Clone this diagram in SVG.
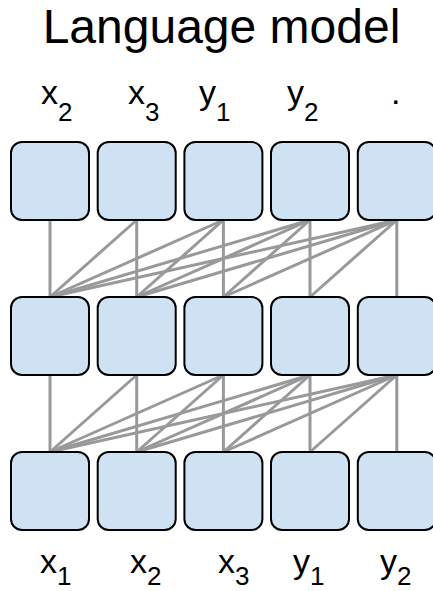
<svg xmlns="http://www.w3.org/2000/svg" width="433" height="591" viewBox="0 0 433 591">
<style>
.box{fill:#cfe2f3;stroke:#000;stroke-width:2}
.ln{stroke:#999;stroke-width:3;fill:none}
.t{font-family:"Liberation Sans",Arial,sans-serif;fill:#000}
.lab{font-size:34px}
.sub{font-size:26px}
</style>
<rect width="433" height="591" fill="#fff"/>
<g id="connectors" class="ln">
<line x1="50" y1="220" x2="50" y2="297"/>
<line x1="136.7" y1="220" x2="136.7" y2="297"/>
<line x1="136.7" y1="220" x2="50" y2="297"/>
<line x1="223.4" y1="220" x2="223.4" y2="297"/>
<line x1="223.4" y1="220" x2="136.7" y2="297"/>
<line x1="223.4" y1="220" x2="50" y2="297"/>
<line x1="310" y1="220" x2="310" y2="297"/>
<line x1="310" y1="220" x2="223.4" y2="297"/>
<line x1="310" y1="220" x2="136.7" y2="297"/>
<line x1="310" y1="220" x2="50" y2="297"/>
<line x1="396.8" y1="220" x2="396.8" y2="297"/>
<line x1="396.8" y1="220" x2="310" y2="297"/>
<line x1="396.8" y1="220" x2="223.4" y2="297"/>
<line x1="396.8" y1="220" x2="136.7" y2="297"/>
<line x1="396.8" y1="220" x2="50" y2="297"/>
<line x1="50" y1="375" x2="50" y2="452"/>
<line x1="136.7" y1="375" x2="136.7" y2="452"/>
<line x1="136.7" y1="375" x2="50" y2="452"/>
<line x1="223.4" y1="375" x2="223.4" y2="452"/>
<line x1="223.4" y1="375" x2="136.7" y2="452"/>
<line x1="223.4" y1="375" x2="50" y2="452"/>
<line x1="310" y1="375" x2="310" y2="452"/>
<line x1="310" y1="375" x2="223.4" y2="452"/>
<line x1="310" y1="375" x2="136.7" y2="452"/>
<line x1="310" y1="375" x2="50" y2="452"/>
<line x1="396.8" y1="375" x2="396.8" y2="452"/>
<line x1="396.8" y1="375" x2="310" y2="452"/>
<line x1="396.8" y1="375" x2="223.4" y2="452"/>
<line x1="396.8" y1="375" x2="136.7" y2="452"/>
<line x1="396.8" y1="375" x2="50" y2="452"/>
</g>
<g id="top-row">
<rect id="t1" class="box" x="11" y="142" width="78" height="78" rx="11"/>
<rect id="t2" class="box" x="97.7" y="142" width="78" height="78" rx="11"/>
<rect id="t3" class="box" x="184.4" y="142" width="78" height="78" rx="11"/>
<rect id="t4" class="box" x="271" y="142" width="78" height="78" rx="11"/>
<rect id="t5" class="box" x="357.8" y="142" width="78" height="78" rx="11"/>
</g>
<g id="mid-row">
<rect id="m1" class="box" x="11" y="297" width="78" height="78" rx="11"/>
<rect id="m2" class="box" x="97.7" y="297" width="78" height="78" rx="11"/>
<rect id="m3" class="box" x="184.4" y="297" width="78" height="78" rx="11"/>
<rect id="m4" class="box" x="271" y="297" width="78" height="78" rx="11"/>
<rect id="m5" class="box" x="357.8" y="297" width="78" height="78" rx="11"/>
</g>
<g id="bottom-row">
<rect id="b1" class="box" x="11" y="452" width="78" height="78" rx="11"/>
<rect id="b2" class="box" x="97.7" y="452" width="78" height="78" rx="11"/>
<rect id="b3" class="box" x="184.4" y="452" width="78" height="78" rx="11"/>
<rect id="b4" class="box" x="271" y="452" width="78" height="78" rx="11"/>
<rect id="b5" class="box" x="357.8" y="452" width="78" height="78" rx="11"/>
</g>
<g id="title"><text class="t" x="221.5" y="43" font-size="48" text-anchor="middle">Language model</text></g>
<g id="top-labels" class="t lab">
<text x="41" y="104">x<tspan class="sub" dy="17">2</tspan></text>
<text x="128" y="104">x<tspan class="sub" dy="17">3</tspan></text>
<text x="199" y="104">y<tspan class="sub" dy="17">1</tspan></text>
<text x="287" y="104">y<tspan class="sub" dy="17">2</tspan></text>
<text x="391" y="104">.</text>
</g>
<g id="bottom-labels" class="t lab">
<text x="40" y="573">x<tspan class="sub" dy="12">1</tspan></text>
<text x="130" y="573">x<tspan class="sub" dy="12">2</tspan></text>
<text x="218" y="573">x<tspan class="sub" dy="12">3</tspan></text>
<text x="293" y="573">y<tspan class="sub" dy="12">1</tspan></text>
<text x="380" y="573">y<tspan class="sub" dy="12">2</tspan></text>
</g>
</svg>
